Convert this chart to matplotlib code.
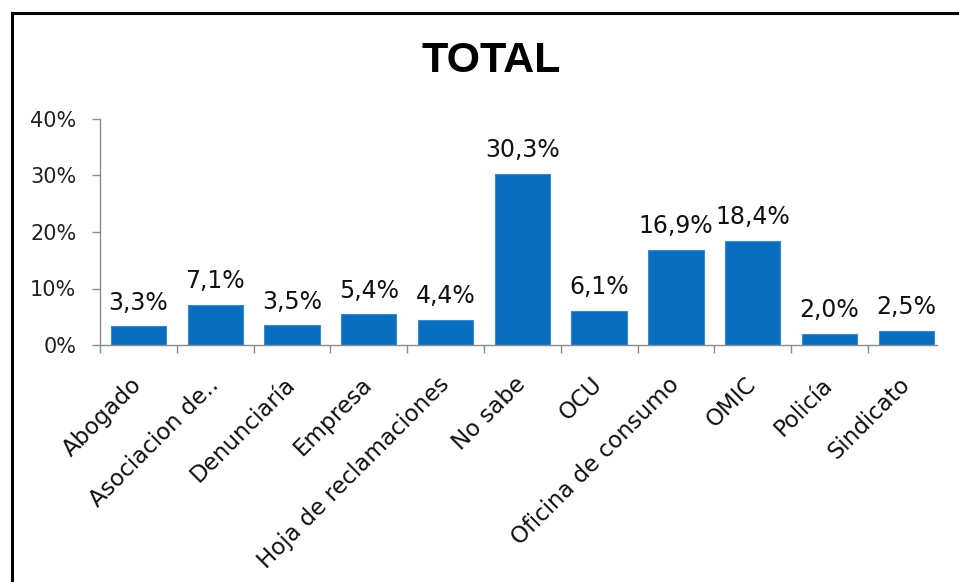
import matplotlib.pyplot as plt
from matplotlib.lines import Line2D
import numpy as np

# data
categories = ['Abogado', 'Asociacion de..', 'Denunciaría', 'Empresa',
              'Hoja de reclamaciones', 'No sabe', 'OCU', 'Oficina de consumo',
              'OMIC', 'Policía', 'Sindicato']
values = [3.3, 7.1, 3.5, 5.4, 4.4, 30.3, 6.1, 16.9, 18.4, 2.0, 2.5]
y_ticks = [0, 10, 20, 30, 40]

bar_color = '#0A6EC0'
axis_color = '#8C8C8C'

fig = plt.figure(figsize=(9.59, 5.82), dpi=100)
ax = fig.add_axes([100 / 959, 237 / 582, 837 / 959, 226 / 582])

x = np.arange(len(categories))
ax.bar(x, values, width=0.72, color=bar_color, edgecolor='#3A8AD0', linewidth=0.8, zorder=2)

# value labels with comma decimals
for xi, v in zip(x, values):
    ax.annotate(f"{v:.1f}".replace('.', ',') + '%', (xi, v), xytext=(0, 12),
                textcoords='offset points', ha='center', va='baseline',
                fontsize=17, color='#111111')

ax.set_xlim(-0.5, 10.4)
ax.set_ylim(0, 40)
ax.set_yticks(y_ticks)
ax.set_yticklabels([f"{t}%" for t in y_ticks], fontsize=15, color='#222222')

# category labels on centers, tick marks on boundaries
ax.set_xticks(x)
ax.set_xticklabels(categories, rotation=45, ha='right', va='center',
                   rotation_mode='anchor', fontsize=16.5, color='#111111')
ax.tick_params(axis='x', which='major', length=0, pad=26)
ax.set_xticks(np.arange(-0.5, 10.0, 1), minor=True)
ax.tick_params(axis='x', which='minor', length=6, color=axis_color, width=1)
ax.tick_params(axis='y', length=6, color=axis_color, width=1, pad=11)

for s in ['top', 'right']:
    ax.spines[s].set_visible(False)
for s in ['left', 'bottom']:
    ax.spines[s].set_color(axis_color)
    ax.spines[s].set_linewidth(1)

fig.text(491 / 959, 1 - 61 / 582, 'TOTAL', ha='center', va='center',
         fontsize=31, fontweight='bold', family='Liberation Sans')

# outer frame (right and bottom edges fall outside the picture)
fig.add_artist(Line2D([12 / 959, 12 / 959], [0, 1 - 13 / 582],
                      transform=fig.transFigure, color='black', linewidth=2.2))
fig.add_artist(Line2D([12 / 959, 1], [1 - 13 / 582, 1 - 13 / 582],
                      transform=fig.transFigure, color='black', linewidth=2.2))

fig.savefig('out.png', dpi=100)
